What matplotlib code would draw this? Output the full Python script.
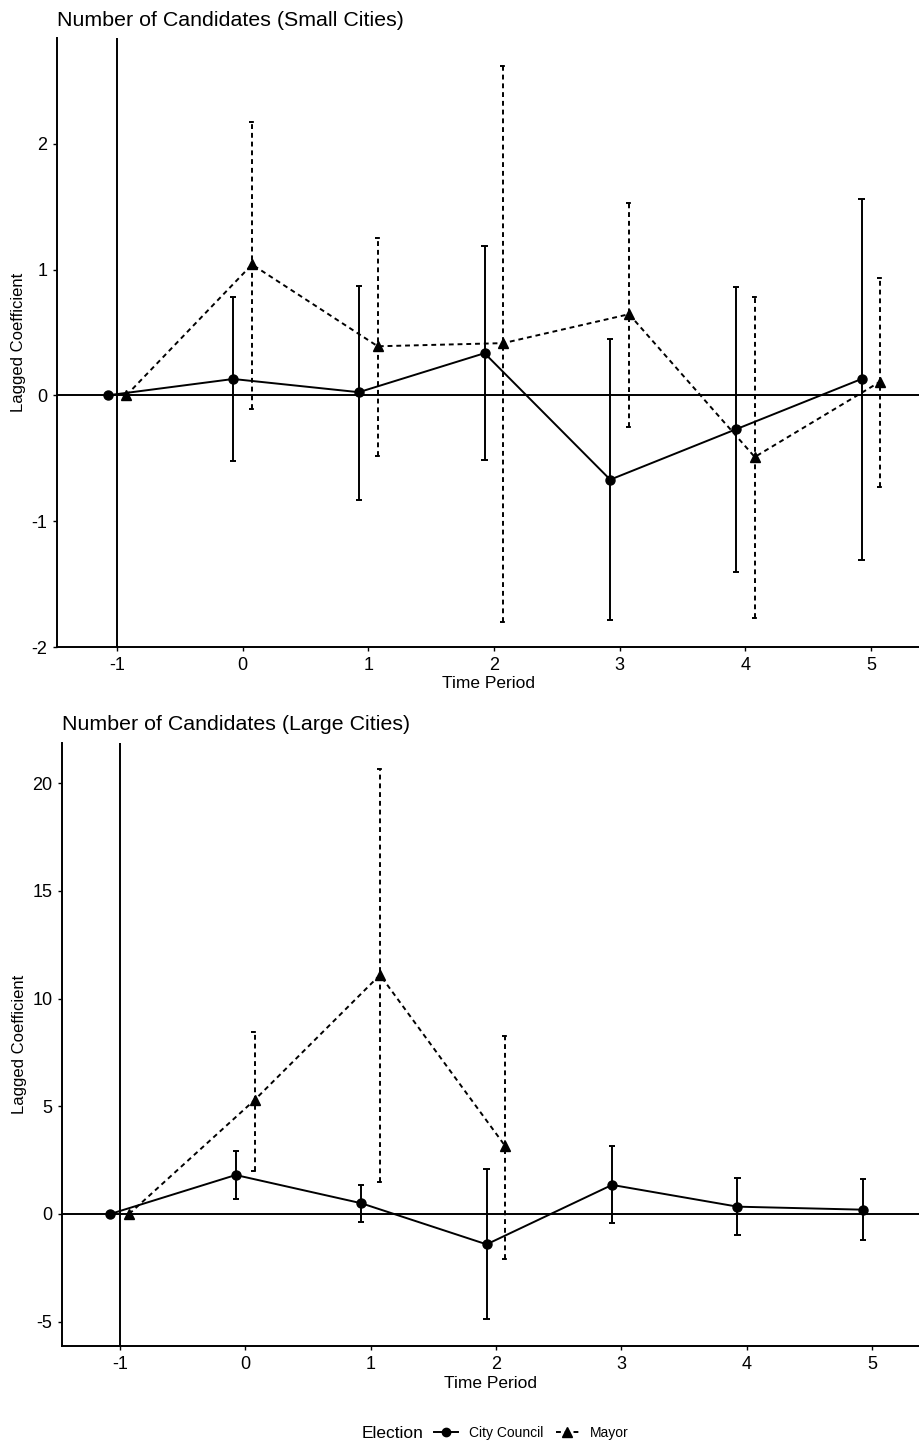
import numpy as np
import matplotlib
matplotlib.use("Agg")
import matplotlib.pyplot as plt
from matplotlib.lines import Line2D

plt.rcParams['font.family'] = ['Liberation Sans', 'DejaVu Sans']
plt.rcParams['axes.unicode_minus'] = False

# ----------------------------
# Datos
# ----------------------------
periods = [-1, 0, 1, 2, 3, 4, 5]

# Ciudades pequeñas
small_council = [0.0, 0.13, 0.025, 0.335, -0.67, -0.27, 0.13]
small_council_lo = [0.0, -0.525, -0.83, -0.515, -1.785, -1.40, -1.31]
small_council_hi = [0.0, 0.78, 0.87, 1.185, 0.45, 0.86, 1.56]
small_mayor = [0.0, 1.04, 0.39, 0.415, 0.645, -0.49, 0.11]
small_mayor_lo = [0.0, -0.105, -0.485, -1.80, -0.25, -1.77, -0.73]
small_mayor_hi = [0.0, 2.175, 1.25, 2.62, 1.525, 0.78, 0.935]

# Ciudades grandes
large_council = [0.0, 1.81, 0.50, -1.41, 1.35, 0.34, 0.20]
large_council_lo = [0.0, 0.71, -0.36, -4.87, -0.40, -0.96, -1.19]
large_council_hi = [0.0, 2.91, 1.36, 2.09, 3.14, 1.67, 1.64]
large_mayor = [0.0, 5.29, 11.10, 3.14, np.nan, np.nan, np.nan]
large_mayor_lo = [0.0, 1.98, 1.49, -2.10, np.nan, np.nan, np.nan]
large_mayor_hi = [0.0, 8.46, 20.65, 8.28, np.nan, np.nan, np.nan]

y_ticks_small = [-2, -1, 0, 1, 2]
y_ticks_large = [-5, 0, 5, 10, 15, 20]

W, H = 920, 1445
DODGE = 0.075
CAP = 0.025
DASH = (0, (2.5, 2))


def draw_series(ax, x, y, lo, hi, ls, marker, ms):
    x = np.asarray(x, dtype=float)
    y = np.asarray(y, dtype=float)
    lo = np.asarray(lo, dtype=float)
    hi = np.asarray(hi, dtype=float)
    ok = ~np.isnan(y)
    ax.vlines(x[ok], lo[ok], hi[ok], colors='black', linestyles=ls, linewidth=1.4, zorder=3)
    ax.hlines(hi[ok], x[ok] - CAP, x[ok] + CAP, colors='black', linestyles=ls, linewidth=1.4, zorder=3)
    ax.hlines(lo[ok], x[ok] - CAP, x[ok] + CAP, colors='black', linestyles=ls, linewidth=1.4, zorder=3)
    ax.plot(x[ok], y[ok], color='black', linestyle=ls, linewidth=1.4,
            marker=marker, markersize=ms, zorder=4)


def panel(box, title, council, c_lo, c_hi, mayor, m_lo, m_hi, xlim, ylim, yticks):
    l, t, r, b = box
    ax = fig.add_axes([l / W, 1 - b / H, (r - l) / W, (b - t) / H])
    x = np.array(periods, dtype=float)
    ax.axvline(-1, color='black', linewidth=1.4, zorder=2)
    ax.axhline(0, color='black', linewidth=1.4, zorder=2)
    draw_series(ax, x - DODGE, council, c_lo, c_hi, '-', 'o', 6.5)
    draw_series(ax, x + DODGE, mayor, m_lo, m_hi, DASH, '^', 7)
    ax.set_xlim(*xlim)
    ax.set_ylim(*ylim)
    ax.set_xticks(periods)
    ax.set_yticks(yticks)
    for s in ['top', 'right']:
        ax.spines[s].set_visible(False)
    for s in ['left', 'bottom']:
        ax.spines[s].set_linewidth(1.4)
    ax.tick_params(labelsize=13, length=3, width=1, colors='black', pad=4)
    ax.set_xlabel("Time Period", fontsize=12.5, labelpad=2)
    ax.set_ylabel("Lagged Coefficient", fontsize=12, labelpad=4)
    ax.set_title(title, loc='left', fontsize=15.4, pad=9)
    return ax


fig = plt.figure(figsize=(W / 100, H / 100), dpi=100)

panel((57, 38, 920, 647), "Number of Candidates (Small Cities)",
      small_council, small_council_lo, small_council_hi,
      small_mayor, small_mayor_lo, small_mayor_hi,
      (-1.477, 5.39), (-2.0, 2.84), y_ticks_small)

panel((62, 743, 920, 1346), "Number of Candidates (Large Cities)",
      large_council, large_council_lo, large_council_hi,
      large_mayor, large_mayor_lo, large_mayor_hi,
      (-1.46, 5.38), (-6.13, 21.87), y_ticks_large)

# ----------------------------
# Leyenda
# ----------------------------
fig.text(362 / W, 1 - 1433 / H, "Election", fontsize=12.5, va='center', ha='left')
handles = [
    Line2D([], [], color='black', linestyle='-', linewidth=1.4, marker='o', markersize=6),
    Line2D([], [], color='black', linestyle=DASH, linewidth=1.4, marker='^', markersize=6.5),
]
fig.legend(handles, ["City Council", "Mayor"], loc='center left',
           bbox_to_anchor=(434 / W, 1 - 1433 / H), ncol=2, frameon=False,
           fontsize=10, handlelength=1.7, handletextpad=0.8, columnspacing=0.9,
           borderpad=0, borderaxespad=0)

fig.savefig("out.png", dpi=100)
